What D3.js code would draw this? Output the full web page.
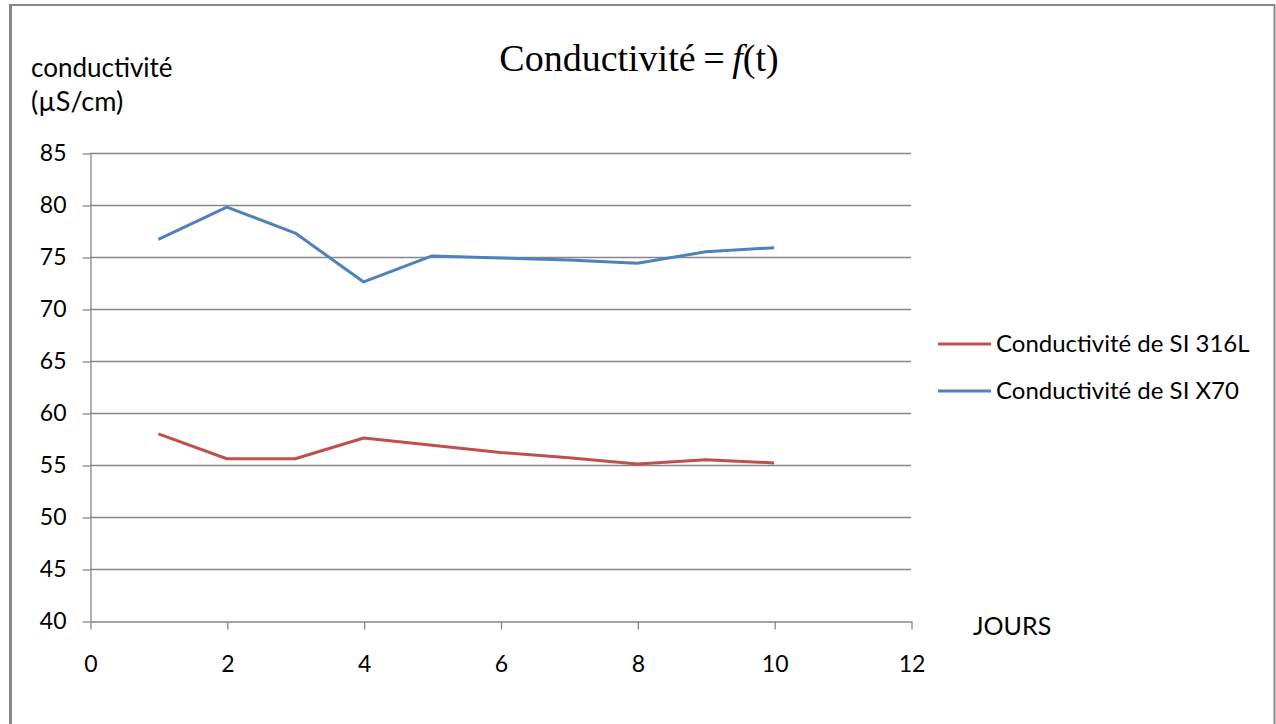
<!DOCTYPE html>
<html>
<head>
<meta charset="utf-8">
<script src="https://cdn.jsdelivr.net/npm/d3@7"></script>
<style>
  body { margin: 0; background: #fff; }
  text { font-family: Lato, "Open Sans", sans-serif; fill: #000; }
</style>
</head>
<body>
<script>
var W = 1276, H = 724;

// data
var days = [1, 2, 3, 4, 5, 6, 7, 8, 9, 10];
var x70 = [76.7, 79.8, 77.3, 72.6, 75.1, 74.9, 74.7, 74.4, 75.5, 75.9];
var s316 = [58.0, 55.6, 55.6, 57.6, 56.9, 56.2, 55.7, 55.1, 55.5, 55.2];
var seriesNames = ['Conductivité de SI 316L', 'Conductivité de SI X70'];
var seriesColours = ['#C0504D', '#4F81BD'];
var xTicks = [0, 2, 4, 6, 8, 10, 12];
var yTicks = [40, 45, 50, 55, 60, 65, 70, 75, 80, 85];

var svg = d3.select(document.body).append('svg')
  .attr('width', W).attr('height', H);

// frame
svg.append('rect').attr('x', 10.5).attr('y', 5).attr('width', 1264).attr('height', 730)
  .attr('fill', 'none').attr('stroke', '#888').attr('stroke-width', 2);
svg.append('line').attr('x1', 10.5).attr('x2', 10.5).attr('y1', 4).attr('y2', H)
  .attr('stroke', '#888').attr('stroke-width', 3);

var x = d3.scaleLinear().domain([0, 12]).range([90, 911]);
var y = d3.scaleLinear().domain([40, 85]).range([621, 153]);

// gridlines
svg.append('g').selectAll('line').data(yTicks.slice(1)).join('line')
  .attr('x1', x(0)).attr('x2', x(12))
  .attr('y1', d => Math.round(y(d)) + 0.5).attr('y2', d => Math.round(y(d)) + 0.5)
  .attr('stroke', '#878787').attr('stroke-width', 1.3);

// y axis
var yAxis = svg.append('g').attr('transform', 'translate(' + (x(0) + 0.5) + ',0.5)')
  .call(d3.axisLeft(y).tickValues(yTicks).tickSize(8).tickPadding(16).tickSizeOuter(0));
// x axis
var xAxis = svg.append('g').attr('transform', 'translate(0.5,' + (Math.round(y(40)) + 0.5) + ')')
  .call(d3.axisBottom(x).tickValues(xTicks).tickSize(8).tickPadding(26).tickSizeOuter(0));

[yAxis, xAxis].forEach(function (g) {
  g.selectAll('path, line').attr('stroke', '#878787').attr('stroke-width', 1.3);
  g.selectAll('text').style('font-family', 'Lato, "Open Sans", sans-serif')
    .style('font-size', '23px').attr('fill', '#000');
});

// lines
var line = d3.line().x((d, i) => x(days[i])).y(d => y(d));
[s316, x70].forEach(function (vals, k) {
  svg.append('path').datum(vals)
    .attr('d', line)
    .attr('fill', 'none')
    .attr('stroke', seriesColours[k])
    .attr('stroke-width', 3)
    .attr('stroke-linejoin', 'round');
});

// title
var title = svg.append('text').attr('x', 639).attr('y', 71).attr('text-anchor', 'middle')
  .style('font-family', '"Liberation Serif", "Times New Roman", serif').style('font-size', '38px');
title.append('tspan').text('Conductivité\u2009=\u2009');
title.append('tspan').style('font-style', 'italic').text('f');
title.append('tspan').text('(t)');

// axis titles
svg.append('text').attr('x', 31).attr('y', 77).style('font-size', '26px').text('conductivité');
svg.append('text').attr('x', 31).attr('y', 111).style('font-size', '27px').text('(µS/cm)');
svg.append('text').attr('x', 973).attr('y', 635).style('font-size', '25px').text('JOURS');

// legend
var leg = svg.append('g').selectAll('g').data(seriesNames).join('g')
  .attr('transform', (d, i) => 'translate(938,' + (344 + i * 47) + ')');
leg.append('line').attr('x1', 0).attr('x2', 53)
  .attr('stroke', (d, i) => seriesColours[i]).attr('stroke-width', 3);
leg.append('text').attr('x', 58).attr('y', 8).style('font-size', '24px').text(d => d);
</script>
</body>
</html>
